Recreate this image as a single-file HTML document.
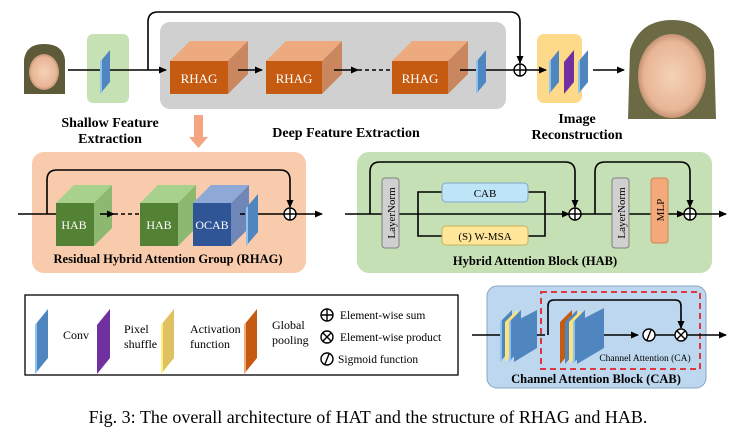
<!DOCTYPE html>
<html><head><meta charset="utf-8"><style>
body{margin:0;background:#fff;width:736px;height:440px;overflow:hidden}
svg{display:block}
text{font-family:"Liberation Serif",serif}
</style></head><body>
<svg width="736" height="440" viewBox="0 0 736 440" xmlns="http://www.w3.org/2000/svg">
<defs>
<marker id="ah" markerWidth="8" markerHeight="8" refX="7" refY="4" orient="auto" markerUnits="userSpaceOnUse"><path d="M0,0.5 L8,4 L0,7.5z" fill="#000"/></marker>
<radialGradient id="face" cx="50%" cy="50%" r="55%"><stop offset="0" stop-color="#f6d2b6"/><stop offset="0.75" stop-color="#e8b596"/><stop offset="1" stop-color="#b08060"/></radialGradient>
<g id="slab"><path d="M0,12 L10,0 L10,32 L0,44z" fill="#4f86c0"/><path d="M0,12 L2,10 L2,42 L0,44z" fill="#8fc3f0"/></g>
</defs>

<!-- top row -->
<rect x="21" y="45" width="47" height="50" rx="3" fill="#fff"/>
<path d="M24,94 L24,60 Q26,44 44,44 Q63,44 65,60 L65,94z" fill="#5d5a3a"/>
<ellipse cx="44" cy="72" rx="15" ry="18" fill="url(#face)"/>
<path d="M625,19 H719 V119 H625z" fill="#fff"/>
<path d="M628,119 L630,50 Q640,20 672,20 Q705,20 714,50 L716,119z" fill="#6c6a45"/>
<ellipse cx="672" cy="76" rx="34" ry="42" fill="url(#face)"/>
<rect x="87" y="34" width="42" height="69" rx="6" fill="#c6e2b4"/>
<rect x="160" y="22" width="346" height="87" rx="10" fill="#d0d0d0"/>
<rect x="537" y="34" width="45" height="69" rx="7" fill="#fdd98a"/>

<path d="M148,70 L148,22 Q148,12 158,12 L510,12 Q520,12 520,22 L520,63" fill="none" stroke="#000" stroke-width="1.6" marker-end="url(#ah)"/>
<line x1="68" y1="70" x2="166" y2="70" stroke="#000" stroke-width="1.6" marker-end="url(#ah)"/>
<use href="#slab" x="100" y="50"/>

<g>
<path d="M170,61 L190,41 L248,41 L228,61z" fill="#ecaa7e"/><path d="M228,61 L248,41 L248,74 L228,94z" fill="#c9865f"/><rect x="170" y="61" width="58" height="33" fill="#c55a11"/>
<text x="199" y="83" font-size="13" fill="#fff" text-anchor="middle">RHAG</text>
<path d="M266,61 L286,41 L342,41 L322,61z" fill="#ecaa7e"/><path d="M322,61 L342,41 L342,74 L322,94z" fill="#c9865f"/><rect x="266" y="61" width="56" height="33" fill="#c55a11"/>
<text x="294" y="83" font-size="13" fill="#fff" text-anchor="middle">RHAG</text>
<path d="M392,61 L412,41 L468,41 L448,61z" fill="#ecaa7e"/><path d="M448,61 L468,41 L468,74 L448,94z" fill="#c9865f"/><rect x="392" y="61" width="56" height="33" fill="#c55a11"/>
<text x="420" y="83" font-size="13" fill="#fff" text-anchor="middle">RHAG</text>
</g>
<line x1="238" y1="70" x2="262" y2="70" stroke="#000" stroke-width="1.6" marker-end="url(#ah)"/>
<line x1="334" y1="70" x2="358" y2="70" stroke="#000" stroke-width="1.6" marker-end="url(#ah)"/>
<line x1="358" y1="70" x2="390" y2="70" stroke="#000" stroke-width="1.6" stroke-dasharray="4,3"/>
<line x1="460" y1="70" x2="476" y2="70" stroke="#000" stroke-width="1.6"/>
<use href="#slab" x="476" y="50"/>
<line x1="486" y1="70" x2="514" y2="70" stroke="#000" stroke-width="1.6"/>
<circle cx="520" cy="70" r="6" fill="#fff" stroke="#000" stroke-width="1.4"/><path d="M514,70h12M520,64v12" stroke="#000" stroke-width="1.4"/>
<line x1="526" y1="70" x2="546" y2="70" stroke="#000" stroke-width="1.6" marker-end="url(#ah)"/>
<use href="#slab" x="549" y="50"/>
<path d="M564,62 L574,50 L574,82 L564,94z" fill="#7030a0"/>
<use href="#slab" x="578" y="50"/>
<line x1="593" y1="70" x2="624" y2="70" stroke="#000" stroke-width="1.6" marker-end="url(#ah)"/>

<g font-weight="bold" font-size="14" text-anchor="middle">
<text x="110" y="127">Shallow Feature</text><text x="110" y="143">Extraction</text>
<text x="346" y="137">Deep Feature Extraction</text>
<text x="577" y="123">Image</text><text x="577" y="139">Reconstruction</text>
</g>
<path d="M194,115 h9 v22 h5 l-9.5,11 l-9.5,-11 h5z" fill="#f4a582"/>

<!-- RHAG detail -->
<rect x="32" y="152" width="274" height="121" rx="12" fill="#f8cbad"/>
<path d="M47,214 L47,180 Q47,170 57,170 L280,170 Q290,170 290,180 L290,207" fill="none" stroke="#000" stroke-width="1.6" marker-end="url(#ah)"/>
<line x1="18" y1="214" x2="56" y2="214" stroke="#000" stroke-width="1.6"/>
<path d="M56,203 L74,185 L112,185 L94,203z" fill="#a9d18e"/><path d="M94,203 L112,185 L112,228 L94,246z" fill="#8db86f"/><rect x="56" y="203" width="38" height="43" fill="#548235"/>
<text x="74" y="229" font-size="12" fill="#fff" text-anchor="middle">HAB</text>
<line x1="100" y1="214" x2="114" y2="214" stroke="#000" stroke-width="1.6" marker-end="url(#ah)"/>
<line x1="114" y1="214" x2="140" y2="214" stroke="#000" stroke-width="1.6" stroke-dasharray="4,3"/>
<path d="M140,203 L158,185 L196,185 L178,203z" fill="#a9d18e"/><path d="M178,203 L196,185 L196,228 L178,246z" fill="#8db86f"/><rect x="140" y="203" width="38" height="43" fill="#548235"/>
<text x="159" y="229" font-size="12" fill="#fff" text-anchor="middle">HAB</text>
<path d="M193,203 L211,185 L249,185 L231,203z" fill="#8fa9d6"/><path d="M231,203 L249,185 L249,228 L231,246z" fill="#6e86b8"/><rect x="193" y="203" width="38" height="43" fill="#2f5597"/>
<text x="212" y="229" font-size="12" fill="#fff" text-anchor="middle">OCAB</text>
<line x1="240" y1="214" x2="245" y2="214" stroke="#000" stroke-width="1.6"/>
<g transform="translate(246,0)"><path d="M0,208 L12,194 L12,232 L0,246z" fill="#4f86c0"/><path d="M0,208 L2,206 L2,244 L0,246z" fill="#8fc3f0"/></g>
<line x1="258" y1="214" x2="284" y2="214" stroke="#000" stroke-width="1.6"/>
<circle cx="290" cy="214" r="6" fill="#fff" stroke="#000" stroke-width="1.4"/><path d="M284,214h12M290,208v12" stroke="#000" stroke-width="1.4"/>
<line x1="296" y1="214" x2="322" y2="214" stroke="#000" stroke-width="1.6" marker-end="url(#ah)"/>
<text x="168" y="263" font-size="12.5" font-weight="bold" text-anchor="middle">Residual Hybrid Attention Group (RHAG)</text>

<!-- HAB -->
<rect x="357" y="152" width="355" height="121" rx="12" fill="#c5e0b4"/>
<line x1="345" y1="214" x2="569" y2="214" stroke="#000" stroke-width="1.6" marker-end="url(#ah)"/>
<path d="M370,214 L370,172 Q370,162 380,162 L565,162 Q575,162 575,172 L575,207" fill="none" stroke="#000" stroke-width="1.6" marker-end="url(#ah)"/>
<rect x="382" y="178" width="17" height="70" rx="3" fill="#d0d0d0" stroke="#7f7f7f"/>
<text transform="translate(395,213) rotate(-90)" font-size="11" text-anchor="middle">LayerNorm</text>
<path d="M418,214 V192 H442 M418,214 V236 H442 M528,192 H545 V236 H528" fill="none" stroke="#000" stroke-width="1.6"/>
<rect x="442" y="183" width="86" height="19" rx="4" fill="#bde4f7" stroke="#7fa9c9"/>
<text x="485" y="197" font-size="11" text-anchor="middle">CAB</text>
<rect x="442" y="226" width="86" height="19" rx="4" fill="#ffe699" stroke="#c9b25c"/>
<text x="485" y="240" font-size="11" text-anchor="middle">(S) W-MSA</text>
<circle cx="575" cy="214" r="6" fill="#fff" stroke="#000" stroke-width="1.4"/><path d="M569,214h12M575,208v12" stroke="#000" stroke-width="1.4"/>
<line x1="581" y1="214" x2="684" y2="214" stroke="#000" stroke-width="1.6" marker-end="url(#ah)"/>
<path d="M595,214 L595,172 Q595,162 605,162 L680,162 Q690,162 690,172 L690,207" fill="none" stroke="#000" stroke-width="1.6" marker-end="url(#ah)"/>
<rect x="612" y="178" width="17" height="70" rx="3" fill="#d0d0d0" stroke="#7f7f7f"/>
<text transform="translate(625,213) rotate(-90)" font-size="11" text-anchor="middle">LayerNorm</text>
<rect x="651" y="178" width="17" height="65" rx="3" fill="#f4a97a" stroke="#c9875c"/>
<text transform="translate(664,210) rotate(-90)" font-size="11" text-anchor="middle">MLP</text>
<circle cx="690" cy="214" r="6" fill="#fff" stroke="#000" stroke-width="1.4"/><path d="M684,214h12M690,208v12" stroke="#000" stroke-width="1.4"/>
<line x1="696" y1="214" x2="726" y2="214" stroke="#000" stroke-width="1.6" marker-end="url(#ah)"/>
<text x="535" y="265" font-size="12.5" font-weight="bold" text-anchor="middle">Hybrid Attention Block (HAB)</text>

<!-- legend -->
<rect x="25" y="295" width="433" height="80" fill="#fff" stroke="#000" stroke-width="1.3"/>
<g transform="translate(35,0)"><path d="M0,325 L13,309 L13,358 L0,374z" fill="#4f86c0"/><path d="M0,325 L2,323 L2,372 L0,374z" fill="#8fc3f0"/></g>
<text x="63" y="339" font-size="12">Conv</text>
<path d="M97,325 L110,309 L110,358 L97,374z" fill="#7030a0"/>
<text x="124" y="333" font-size="12">Pixel</text><text x="124" y="348" font-size="12">shuffle</text>
<path d="M161,325 L174,309 L174,358 L161,374z" fill="#e0c060"/><path d="M161,325 L163,323 L163,372 L161,374z" fill="#fff27a"/>
<text x="190" y="333" font-size="12">Activation</text><text x="190" y="348" font-size="12">function</text>
<path d="M244,325 L257,309 L257,358 L244,374z" fill="#c55a11"/><path d="M244,325 L246,323 L246,372 L244,374z" fill="#f4a97a"/>
<text x="272" y="329" font-size="12">Global</text><text x="272" y="344" font-size="12">pooling</text>
<circle cx="327" cy="315" r="6" fill="#fff" stroke="#000" stroke-width="1.4"/><path d="M321,315h12M327,309v12" stroke="#000" stroke-width="1.4"/>
<text x="340" y="319" font-size="11.5">Element-wise sum</text>
<circle cx="327" cy="337" r="6" fill="#fff" stroke="#000" stroke-width="1.4"/><path d="M323,333l8,8M331,333l-8,8" stroke="#000" stroke-width="1.4"/>
<text x="340" y="341" font-size="11.5">Element-wise product</text>
<circle cx="327" cy="359" r="6" fill="#fff" stroke="#000" stroke-width="1.4"/><path d="M325,364l4,-10" stroke="#000" stroke-width="1.4"/>
<text x="338" y="363" font-size="11.5">Sigmoid function</text>

<!-- CAB -->
<rect x="487" y="286" width="219" height="102" rx="10" fill="#bdd7ee" stroke="#8aa6c4"/>
<rect x="541" y="292" width="159" height="77" fill="none" stroke="#e0242a" stroke-width="1.8" stroke-dasharray="6,4"/>
<line x1="472" y1="335" x2="545" y2="335" stroke="#000" stroke-width="1.6"/>
<g>
<path d="M500,322 L512,310 L512,348 L500,362z" fill="#4f86c0"/><path d="M500,322 L502,320 L502,360 L500,362z" fill="#8fc3f0"/>
<path d="M505,322 L517,310 L517,348 L505,362z" fill="#ffe27a"/>
<path d="M509,322 L521,310 L521,348 L509,362z" fill="#4f86c0"/><path d="M509,322 L511,320 L511,360 L509,362z" fill="#8fc3f0"/>
<path d="M514,322 L537,310 L537,348 L514,362z" fill="#4f86c0"/>
</g>
<path d="M548,335 L548,306 Q548,300 554,300 L675,300 Q681,300 681,306 L681,328" fill="none" stroke="#000" stroke-width="1.6" marker-end="url(#ah)"/>
<g>
<path d="M560,322 L572,310 L572,350 L560,364z" fill="#c55a11"/>
<path d="M565,322 L577,310 L577,350 L565,364z" fill="#4f86c0"/>
<path d="M569,322 L581,310 L581,350 L569,364z" fill="#ffe27a"/>
<path d="M573,322 L585,310 L585,350 L573,364z" fill="#4f86c0"/><path d="M573,322 L575,320 L575,362 L573,364z" fill="#8fc3f0"/>
<path d="M577,322 L604,308 L604,348 L577,364z" fill="#4f86c0"/>
</g>
<line x1="604" y1="335" x2="638" y2="335" stroke="#000" stroke-width="1.6" marker-end="url(#ah)"/>
<circle cx="649" cy="335" r="6" fill="#fff" stroke="#000" stroke-width="1.4"/><path d="M647,340l4,-10" stroke="#000" stroke-width="1.4"/>
<line x1="655" y1="335" x2="675" y2="335" stroke="#000" stroke-width="1.6"/>
<circle cx="681" cy="335" r="6" fill="#fff" stroke="#000" stroke-width="1.4"/><path d="M677,331l8,8M685,331l-8,8" stroke="#000" stroke-width="1.4"/>
<line x1="687" y1="335" x2="726" y2="335" stroke="#000" stroke-width="1.6" marker-end="url(#ah)"/>
<text x="645" y="361" font-size="9.5" text-anchor="middle">Channel Attention (CA)</text>
<text x="596" y="383" font-size="12.5" font-weight="bold" text-anchor="middle">Channel Attention Block (CAB)</text>

<text x="368" y="423" font-size="18" text-anchor="middle">Fig. 3: The overall architecture of HAT and the structure of RHAG and HAB.</text>
</svg>
</body></html>
